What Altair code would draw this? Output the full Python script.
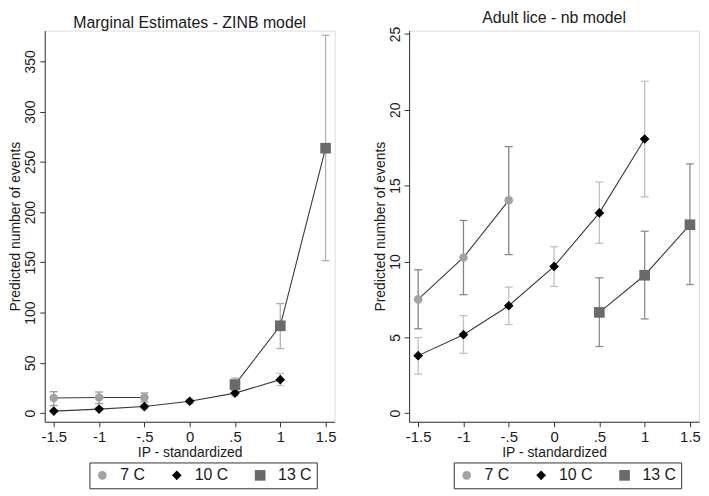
import altair as alt
import pandas as pd

series_names = ["7 C", "10 C", "13 C"]
x_ticks = [-1.5, -1, -0.5, 0, 0.5, 1, 1.5]
x_tick_labels = ["-1.5", "-1", "-.5", "0", ".5", "1", "1.5"]

# Left panel: Marginal Estimates - ZINB model
l7_x = [-1.5, -1, -0.5]
l7_y = [15.0, 15.5, 15.5]
l7_lo = [7.5, 9.5, 11.0]
l7_hi = [21.3, 21.0, 20.0]

l10_x = [-1.5, -1, -0.5, 0, 0.5, 1]
l10_y = [2.0, 4.0, 6.5, 11.8, 19.9, 33.3]
l10_lo = [0.8, 2.5, 4.8, 9.5, 17.0, 27.4]
l10_hi = [3.2, 5.5, 8.2, 14.0, 23.0, 39.5]

l13_x = [0.5, 1, 1.5]
l13_y = [28.4, 86.9, 263.6]
l13_lo = [22.5, 64.3, 151.7]
l13_hi = [34.9, 109.0, 375.9]

# Right panel: Adult lice - nb model
r7_x = [-1.5, -1, -0.5]
r7_y = [7.5, 10.26, 14.03]
r7_lo = [5.56, 7.81, 10.45]
r7_hi = [9.45, 12.7, 17.57]

r10_x = [-1.5, -1, -0.5, 0, 0.5, 1]
r10_y = [3.79, 5.17, 7.08, 9.67, 13.2, 18.07]
r10_lo = [2.57, 3.94, 5.84, 8.35, 11.19, 14.26]
r10_hi = [4.98, 6.43, 8.31, 10.97, 15.23, 21.88]

r13_x = [0.5, 1, 1.5]
r13_y = [6.64, 9.09, 12.42]
r13_lo = [4.39, 6.21, 8.48]
r13_hi = [8.92, 11.99, 16.43]

left_y_ticks = [0, 50, 100, 150, 200, 250, 300, 350]
right_y_ticks = [0, 5, 10, 15, 20, 25]


def frame(parts):
    rows = []
    for name, xs, ys, los, his in parts:
        for x, y, lo, hi in zip(xs, ys, los, his):
            rows.append({"series": name, "x": x, "y": y, "lo": lo, "hi": hi})
    return pd.DataFrame(rows)


left_df = frame([
    ("7 C", l7_x, l7_y, l7_lo, l7_hi),
    ("10 C", l10_x, l10_y, l10_lo, l10_hi),
    ("13 C", l13_x, l13_y, l13_lo, l13_hi),
])
right_df = frame([
    ("7 C", r7_x, r7_y, r7_lo, r7_hi),
    ("10 C", r10_x, r10_y, r10_lo, r10_hi),
    ("13 C", r13_x, r13_y, r13_lo, r13_hi),
])

FONT = "Liberation Sans, Arial, Helvetica, sans-serif"
TXT = "#1a1a1a"
AX = "#333333"

label_expr = " : ".join(
    f"datum.value == {v} ? '{s}'" for v, s in zip(x_ticks, x_tick_labels)
) + " : ''"

marker_colors = ["#a2a2a2", "#000000", "#6a6a6a"]
marker_shapes = ["circle", "diamond", "square"]
marker_sizes = [75, 115, 80]


def panel(df, title, ydomain, yticks, ci_colors, width):
    x_scale = alt.Scale(domain=[-1.6, 1.6], nice=False, zero=False)
    x_axis = alt.Axis(
        values=x_ticks, labelExpr=label_expr, title="IP - standardized",
        grid=False, tickSize=5, labelPadding=3, titlePadding=1,
        labelFont=FONT, labelFontSize=15, titleFont=FONT,
        titleFontSize=14, titleFontWeight="normal",
        labelColor=TXT, titleColor=TXT, domainColor=AX, tickColor=AX,
    )
    y_scale = alt.Scale(domain=ydomain, nice=False, zero=False)
    y_axis = alt.Axis(
        values=yticks, title="Predicted number of events", grid=False,
        tickSize=5, labelPadding=2, labelAngle=270, titlePadding=0,
        minExtent=22, maxExtent=22,
        labelFont=FONT, labelFontSize=14, titleFont=FONT,
        titleFontSize=14, titleFontWeight="normal",
        labelColor=TXT, titleColor=TXT, domainColor=AX, tickColor=AX,
    )

    def X():
        return alt.X("x:Q", scale=x_scale, axis=x_axis)

    def Y(field):
        return alt.Y(f"{field}:Q", scale=y_scale, axis=y_axis)

    base = alt.Chart(df)
    layers = []
    for name, col in zip(series_names, ci_colors):
        sub = base.transform_filter(alt.datum.series == name)
        layers.append(sub.mark_rule(strokeWidth=1.3, color=col).encode(
            x=X(), y=Y("lo"), y2="hi:Q"))
        for f in ("lo", "hi"):
            layers.append(sub.mark_rule(strokeWidth=1.3, color=col,
                                        xOffset=-4, x2Offset=4).encode(
                x=X(), x2="x:Q", y=Y(f)))
    layers.append(base.mark_line(strokeWidth=1.1, color="#3a3a3a").encode(
        x=X(), y=Y("y"), detail="series:N", order="x:Q"))
    legend = alt.Legend(
        title=None, orient="none", legendX=45, legendY=435,
        direction="horizontal", columns=3, strokeColor=AX, fillColor="white",
        padding=5, symbolStrokeWidth=0, labelFont=FONT,
        labelFontSize=16, labelColor=TXT, columnPadding=24, labelOffset=10,
    )
    layers.append(base.mark_point(filled=True, opacity=1).encode(
        x=X(),
        y=Y("y"),
        color=alt.Color(
            "series:N",
            scale=alt.Scale(domain=series_names, range=marker_colors),
            legend=legend,
        ),
        shape=alt.Shape(
            "series:N",
            scale=alt.Scale(domain=series_names, range=marker_shapes),
            legend=legend,
        ),
        size=alt.Size(
            "series:N",
            scale=alt.Scale(domain=series_names, range=marker_sizes),
            legend=legend,
        ),
    ))
    return alt.layer(*layers).properties(
        width=width, height=394,
        title=alt.TitleParams(
            title, fontSize=16, font=FONT, fontWeight="normal",
            color=TXT, offset=0, anchor="middle",
        ),
    )


left = panel(left_df, "Marginal Estimates - ZINB model", [-8.6, 380.6],
             left_y_ticks, ["#9a9a9a", "#c4c4c4", "#b0b0b0"], 292)
right = panel(right_df, "Adult lice - nb model", [-0.57, 25.22],
              right_y_ticks, ["#868686", "#c0c0c0", "#8e8e8e"], 292)

chart = (
    alt.hconcat(left, right, spacing=36)
    .resolve_scale(color="independent", shape="independent",
                   size="independent")
    .properties(padding=0)
    .configure_view(stroke=AX, strokeWidth=1)
    .configure(background="white")
)

chart.save("out.html", embed_options={"renderer": "svg", "actions": False})
